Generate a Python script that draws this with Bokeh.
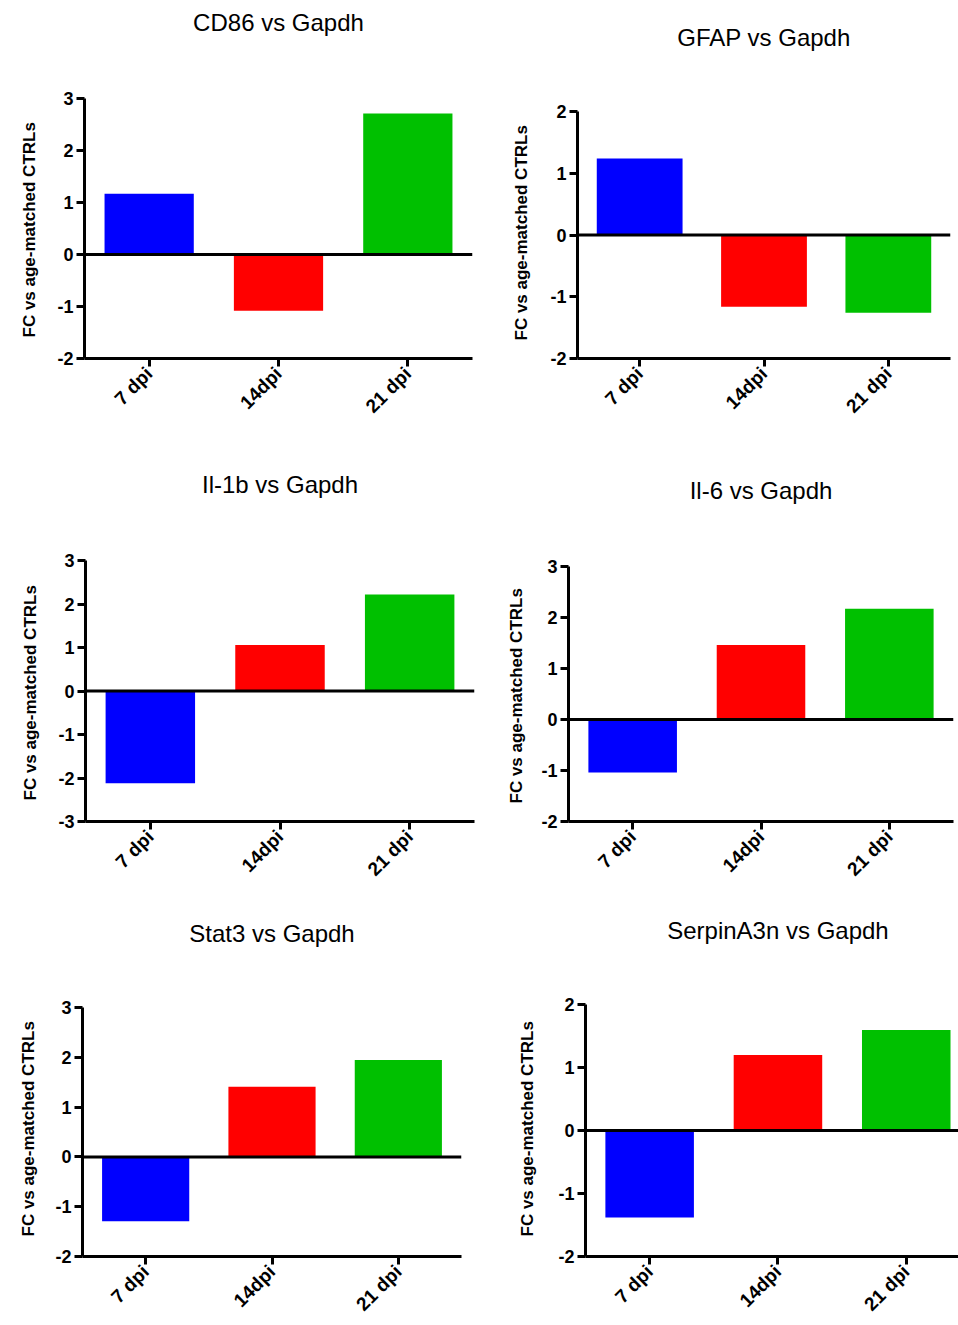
import math

from bokeh.embed import file_html
from bokeh.layouts import column, row
from bokeh.models import (ColumnDataSource, FixedTicker, Label, Range1d, Span,
                          Title)
from bokeh.plotting import figure
from bokeh.resources import INLINE

# Time points and bar colours shared by every panel
days = ["7 dpi", "14dpi", "21 dpi"]
bar_colors = ["#0000FF", "#FF0000", "#00C000"]

# Fold change vs age-matched controls, normalised to Gapdh
cd86 = [1.17, -1.08, 2.71]
gfap = [1.24, -1.16, -1.26]
il1b = [-2.12, 1.06, 2.22]
il6 = [-1.04, 1.46, 2.17]
stat3 = [-1.29, 1.41, 1.95]
serpina3n = [-1.38, 1.20, 1.60]

titles = ["CD86 vs Gapdh", "GFAP vs Gapdh", "Il-1b vs Gapdh",
          "Il-6 vs Gapdh", "Stat3 vs Gapdh", "SerpinA3n vs Gapdh"]
y_limits = [(-2, 3), (-2, 2), (-3, 3), (-2, 3), (-2, 3), (-2, 2)]

FONT = "Liberation Sans"
Y_LABEL = "FC vs age-matched CTRLs"


def panel(title, values, ylim, width, height, left, right, bottom,
          axis_top, title_y, label_lift, label_gap, x_end=3.0):
    """One bar panel.  The frame runs up to the top edge of the figure so the
    heading can sit inside it; the y axis itself is bounded to ylim."""
    ymin, ymax = ylim
    frame_h = height - bottom
    px_per_unit = (frame_h - axis_top) / (ymax - ymin)
    y_end = ymax + axis_top / px_per_unit

    p = figure(width=width, height=height, output_backend="svg",
               toolbar_location=None, tools="",
               x_range=Range1d(0, x_end), y_range=Range1d(ymin, y_end),
               min_border_left=left, min_border_right=right,
               min_border_top=0, min_border_bottom=bottom)
    p.outline_line_color = None
    p.background_fill_color = "white"
    p.border_fill_color = "white"
    p.xgrid.visible = False
    p.ygrid.visible = False

    positions = [i + 0.5 for i in range(len(days))]
    src = ColumnDataSource(dict(x=positions, top=values, color=bar_colors))
    p.vbar(x="x", top="top", bottom=0, width=0.69, color="color",
           line_color=None, source=src)

    p.add_layout(Span(location=0, dimension="width", line_color="black",
                      line_width=3))

    # panel heading, centred over the middle category
    p.add_layout(Label(x=1.5, y=y_end - title_y / px_per_unit, text=title,
                       text_align="center", text_baseline="middle",
                       text_font=FONT, text_font_size="24px",
                       text_color="black"))

    for ax in (p.xaxis[0], p.yaxis[0]):
        ax.axis_line_width = 3
        ax.axis_line_color = "black"
        ax.major_tick_line_width = 3
        ax.major_tick_line_color = "black"
        ax.major_tick_out = 8
        ax.major_tick_in = 0
        ax.minor_tick_line_color = None
        ax.major_label_text_font = FONT
        ax.major_label_text_font_style = "bold"
        ax.major_label_text_color = "black"

    xa = p.xaxis[0]
    xa.ticker = FixedTicker(ticks=positions)
    xa.major_label_overrides = {pos: d for pos, d in zip(positions, days)}
    xa.major_label_orientation = math.pi / 4
    xa.major_label_standoff = 4
    xa.major_label_text_font_size = "19px"

    ya = p.yaxis[0]
    yticks = list(range(ymin, ymax + 1))
    ya.bounds = (ymin, ymax)
    ya.ticker = FixedTicker(ticks=yticks)
    ya.major_label_overrides = {t: str(t) for t in yticks}
    ya.major_label_text_font_size = "18px"
    ya.major_label_standoff = 3

    # y-axis caption, placed along the bounded part of the axis
    p.add_layout(Title(text=Y_LABEL, align="left", offset=label_lift,
                       standoff=label_gap, text_font=FONT,
                       text_font_size="17px", text_font_style="bold",
                       text_color="black"), "left")
    return p


p1 = panel(titles[0], cd86, y_limits[0], 490, 450, 84, 18, 92, 98, 22, 21, 31)
p2 = panel(titles[1], gfap, y_limits[1], 468, 450, 87, 8, 92, 111, 37, 18, 34)
p3 = panel(titles[2], il1b, y_limits[2], 490, 450, 85, 16, 79, 110, 34, 21, 32)
p4 = panel(titles[3], il6, y_limits[3], 468, 450, 78, 5, 79, 116, 40, 18, 25)
p5 = panel(titles[4], stat3, y_limits[4], 490, 425, 82, 29, 63, 109, 34, 20, 29)
p6 = panel(titles[5], serpina3n, y_limits[5], 468, 425, 95, 0, 63, 106, 30,
           20, 38, x_end=373 / 128.3)

layout = column(row(p1, p2), row(p3, p4), row(p5, p6))

open("out.html", "w").write(file_html(layout, INLINE))
